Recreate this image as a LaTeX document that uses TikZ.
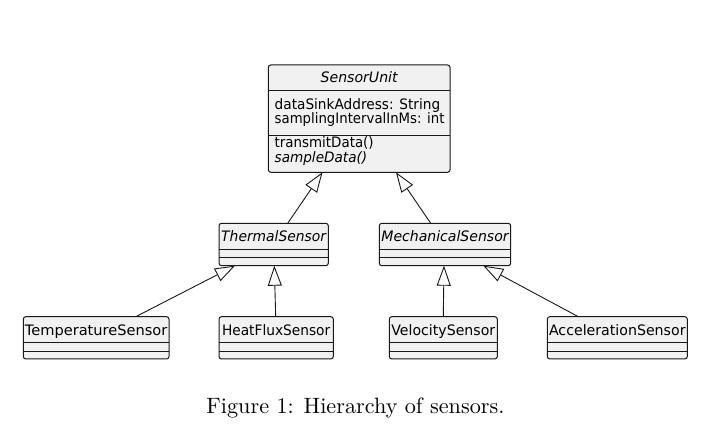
\documentclass[tikz,border=0pt]{standalone}
\usepackage{fontspec}
\usepackage{graphicx}
\newfontfamily\umlfont{DejaVu Sans}
\usetikzlibrary{arrows.meta}
\definecolor{boxfill}{HTML}{F1F1F1}
\definecolor{boxline}{HTML}{181818}
\newcommand{\fitw}[2]{\resizebox{#1}{\height}{#2}}
\tikzset{
  classbox/.style={draw=boxline, fill=boxfill, line width=1pt, rounded corners=2.5pt, inner sep=0pt, outer sep=0pt},
  sepline/.style={draw=boxline, line width=1pt},
  umltext/.style={font=\umlfont\fontsize{14.4}{17}\selectfont, inner sep=0pt, text=black},
  ext/.style={draw=boxline, line width=0.9pt, -{Triangle[open, length=20pt, width=14pt, fill=white]}},
}
\begin{document}
\begin{tikzpicture}[x=1pt, y=-1pt]
\useasboundingbox (0,0) rectangle (724,430);
% SensorUnit
\node[classbox, minimum width=181.7pt, minimum height=107.3pt] (su) at (359.15,118.65) {};
\draw[sepline] ([yshift=-25.5pt]su.north west) -- ([yshift=-25.5pt]su.north east);
\draw[sepline] ([yshift=-70.5pt]su.north west) -- ([yshift=-70.5pt]su.north east);
\node[umltext, anchor=base] (sut) at ([yshift=-17.6pt]su.north) {\fitw{77pt}{\itshape SensorUnit}};
\node[umltext, anchor=base west] (sua1) at ([xshift=6.2pt, yshift=-44.6pt]su.north west) {\fitw{165.5pt}{dataSinkAddress: String}};
\node[umltext, anchor=base west] (sua2) at ([xshift=6.2pt, yshift=-58.6pt]su.north west) {\fitw{169.8pt}{samplingIntervalInMs: int}};
\node[umltext, anchor=base west] (sum1) at ([xshift=6.2pt, yshift=-83pt]su.north west) {\fitw{99pt}{transmitData()}};
\node[umltext, anchor=base west] (sum2) at ([xshift=6.2pt, yshift=-97.5pt]su.north west) {\fitw{92.5pt}{\itshape sampleData()}};
% ThermalSensor
\node[classbox, minimum width=109.3pt, minimum height=42.4pt] (ts) at (273.65,244.5) {};
\node[umltext, anchor=base] (tst) at ([yshift=-18.5pt]ts.north) {\fitw{104.8pt}{\itshape ThermalSensor}};
% MechanicalSensor
\node[classbox, minimum width=131.4pt, minimum height=42.4pt] (ms) at (445,244.5) {};
\node[umltext, anchor=base] (mst) at ([yshift=-18.5pt]ms.north) {\fitw{127.2pt}{\itshape MechanicalSensor}};
% leaves
\node[classbox, minimum width=145.7pt, minimum height=42.3pt] (tp) at (96.15,337.85) {};
\node[umltext, anchor=base] (tpt) at ([yshift=-18.7pt]tp.north) {\fitw{142.5pt}{TemperatureSensor}};
\node[classbox, minimum width=114.3pt, minimum height=42.3pt] (hf) at (276.15,337.85) {};
\node[umltext, anchor=base] (hft) at ([yshift=-18.7pt]hf.north) {\fitw{108.2pt}{HeatFluxSensor}};
\node[classbox, minimum width=108pt, minimum height=42.3pt] (vs) at (443.3,337.85) {};
\node[umltext, anchor=base] (vst) at ([yshift=-18.7pt]vs.north) {\fitw{103.8pt}{VelocitySensor}};
\node[classbox, minimum width=140pt, minimum height=42.3pt] (as) at (617.3,337.85) {};
\node[umltext, anchor=base] (ast) at ([yshift=-18.7pt]as.north) {\fitw{136.5pt}{AccelerationSensor}};
% separators of small boxes
\foreach \b in {ts,ms,tp,hf,vs,as}{
  \draw[sepline] ([yshift=-25.9pt]\b.north west) -- ([yshift=-25.9pt]\b.north east);
  \draw[sepline] ([yshift=-34.4pt]\b.north west) -- ([yshift=-34.4pt]\b.north east);
}
% generalisations
\draw[ext] ([xshift=68.7pt]ts.north west) -- ([xshift=54.2pt]su.south west);
\draw[ext] ([xshift=51.4pt]ms.north west) -- ([xshift=127.7pt]su.south west);
\draw[ext] ([xshift=112.4pt]tp.north west) -- ([xshift=16pt]ts.south west);
\draw[ext] ([xshift=56.7pt]hf.north west) -- ([xshift=55.3pt]ts.south west);
\draw[ext] ([xshift=54pt]vs.north west) -- ([xshift=64.7pt]ms.south west);
\draw[ext] ([xshift=31pt]as.north west) -- ([xshift=104pt]ms.south west);
% caption
\node[anchor=base, inner sep=0pt] (cap) at (355.5,413.5) {\resizebox{298pt}{!}{\fontsize{10}{12}\selectfont Figure 1: Hierarchy of sensors.}};
\end{tikzpicture}
\end{document}
